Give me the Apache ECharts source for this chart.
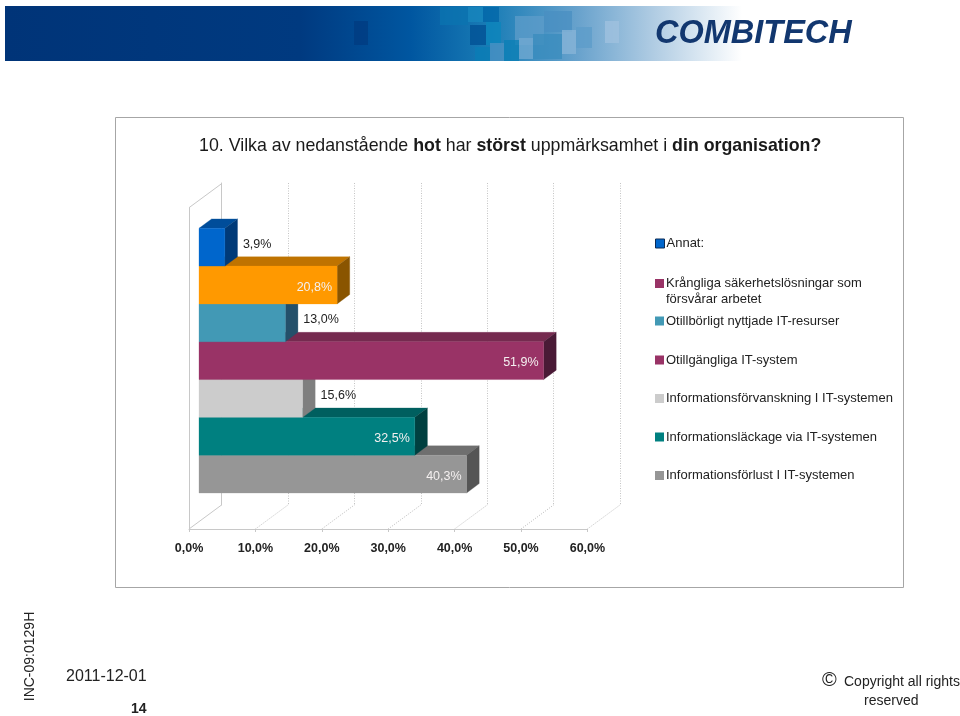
<!DOCTYPE html>
<html><head><meta charset="utf-8">
<style>html,body{margin:0;padding:0;background:#fff}#c{width:960px;height:716px}</style>
<script src="https://cdn.jsdelivr.net/npm/echarts@6/dist/echarts.min.js"></script>
</head><body><div id="c"></div>
<script>
// bottom-to-top, as in the chart
const categories = ['Informationsförlust I IT-systemen','Informationsläckage via IT-systemen','Informationsförvanskning I IT-systemen','Otillgängliga IT-system','Otillbörligt nyttjade IT-resurser','Krångliga säkerhetslösningar som','Annat:'];
const values = [40.3,32.5,15.6,51.9,13.0,20.8,3.9];
const xTicks = [0,10,20,30,40,50,60];
const frontColors = ['#969696','#008080','#cccccc','#993366','#4299b5','#ff9900','#0066cc'];
const topColors = ['#6f6f6f','#005f5f','#989898','#752a4f','#2f7188','#bf7300','#004d9a'];
const sideColors = ['#555555','#004040','#7f7f7f','#4a1a36','#24506a','#8a5500','#003a78'];
const legendColors = ['#969696','#008080','#cccccc','#993366','#4299b5','#993366','#0066cc'];
const legendTops = [474.5,436,397.5,359,320,282,242.5];

const FONT = '"Liberation Sans", Arial, sans-serif';
const depthBar = [12.6,-9.4], depthFloor = [32.8,-24.2];
const X0 = 199, PX = 398.4;

const fmt = v => v.toFixed(1).replace('.',',') + '%';
const barSeries = categories.map((name,i)=>({
  type:'custom', name, xAxisIndex:0, yAxisIndex:0, z:10+i,
  coordinateSystem:'cartesian2d',
  encode:{x:0,y:1},
  data:[[values[i], name]],
  renderItem(params, api){
    const v = api.value(0);
    const s = api.coord([0,name]), e = api.coord([v,name]);
    const h = api.size([0,1])[1];
    const t = s[1]-h/2, b = s[1]+h/2, l = s[0], r = e[0];
    const [dx,dy] = depthBar;
    const poly = (points,fill)=>({type:'polygon',shape:{points},style:{fill,stroke:fill,lineWidth:0.3}});
    const inside = v >= 20;
    return {type:'group',children:[
      poly([[l,t],[l+dx,t+dy],[r+dx,t+dy],[r,t]],topColors[i]),
      poly([[r,t],[r+dx,t+dy],[r+dx,b+dy],[r,b]],sideColors[i]),
      poly([[l,t],[r,t],[r,b],[l,b]],frontColors[i]),
      {type:'text',z2:5,style:{
        text:fmt(v),
        x: inside ? r-5 : r+18,
        y: s[1] + (inside ? 2.2 : -2.8),
        align: inside ? 'right' : 'left', verticalAlign:'middle',
        font:'12.5px '+FONT, fill: inside ? '#f4f0f0' : '#222'}}
    ]};
  }
}));

const wallSeries = {
  type:'custom', name:'floor', xAxisIndex:2, yAxisIndex:2, z:1, silent:true,
  coordinateSystem:'cartesian2d', encode:{x:0,y:1},
  data:xTicks.map(v=>[v,0]).concat([[0,1]]),
  renderItem(params, api){
    const p = api.coord([api.value(0),api.value(1)]);
    const solid = api.value(0)===0;
    return {type:'line',shape:{x1:p[0],y1:p[1],x2:p[0]+depthFloor[0],y2:p[1]+depthFloor[1]},
      style:{stroke:solid?'#c8c8c8':'#bbbbbb',lineWidth:1,lineDash:solid?null:[1,1.5]}};
  }
};

const legends = categories.map((name,i)=>{
  const wrapped = i===5;
  return {
    left:655, top:legendTops[i]-(wrapped?22.5:7), orient:'vertical', padding:0,
    itemWidth:9, itemHeight:9, itemGap:0, icon:'rect', selectedMode:false,
    data:[{name, itemStyle:{color:legendColors[i], borderColor:i===6?'#0a2a55':legendColors[i], borderWidth:i===6?1:0}}],
    formatter: n => wrapped ? '\n'+n+'\nförsvårar arbetet' : n,
    textStyle:{fontFamily:FONT,fontSize:13,color:'#222',padding:[0,0,0,-3],lineHeight:16}
  };
});

const mosaic = [[354,21,14,24,'#003b80'],[440,7,28,18,'#0b74b0'],[468,7,15,15,'#1787bd'],[483,7,16,15,'#0066a8'],[470,25,16,20,'#004f93'],[486,22,15,23,'#0b86bc'],[515,16,29,29,'#5d9cc9'],[544,11,28,21,'#4a8fc2'],[533,34,29,25,'#3a8cbd'],[504,40,15,21,'#0a7fb6'],[490,43,14,18,'#4d93c4'],[475,47,15,14,'#0a7eb5'],[519,38,14,21,'#73a9d2'],[576,27,16,21,'#5c9cc9'],[562,30,14,24,'#8ab5d8'],[605,21,14,22,'#a0c2df']];

const chart = echarts.init(document.getElementById('c'),null,{renderer:'canvas',width:960,height:716});
chart.setOption({
  animation:false, backgroundColor:'#fff',
  title:{
    left:199, top:137, padding:0, text:
      '{r|10. Vilka av nedanstående }{b|hot}{r| har }{b|störst}{r| uppmärksamhet i }{b|din organisation?}',
    textStyle:{fontWeight:'normal',rich:{
      r:{fontFamily:FONT,fontSize:17.8,fontWeight:'normal',color:'#1a1a1a'},
      b:{fontFamily:FONT,fontSize:17.8,fontWeight:'bold',color:'#1a1a1a'}}}
  },
  legend:legends,
  grid:[
    {left:X0,top:228.3,width:PX,height:264.7},
    {left:X0+22.6,top:183,width:PX,height:322},
    {left:189,top:207.7,width:PX,height:321.3}
  ],
  xAxis:[
    {gridIndex:0,type:'value',min:0,max:60,interval:10,show:false},
    {gridIndex:1,type:'value',min:0,max:60,interval:10,axisLine:{show:false},axisTick:{show:false},axisLabel:{show:false},
      splitLine:{show:true,lineStyle:{color:'#c4c4c4',type:[1,1.5]}}},
    {gridIndex:2,type:'value',min:0,max:60,interval:10,
      axisLine:{show:true,lineStyle:{color:'#c8c8c8'}},
      axisTick:{show:true,length:3,lineStyle:{color:'#c8c8c8'}},
      axisLabel:{margin:13,fontFamily:FONT,fontSize:12.5,fontWeight:'bold',color:'#222',formatter:v=>fmt(v),
        customValues:xTicks},
      splitLine:{show:false}}
  ],
  yAxis:[
    {gridIndex:0,type:'category',data:categories,show:false},
    {gridIndex:1,type:'value',min:0,max:1,axisLine:{show:true,lineStyle:{color:'#c8c8c8'}},axisTick:{show:false},axisLabel:{show:false},splitLine:{show:false}},
    {gridIndex:2,type:'value',min:0,max:1,axisLine:{show:true,lineStyle:{color:'#c8c8c8'}},axisTick:{show:false},axisLabel:{show:false},splitLine:{show:false}}
  ],
  series:[wallSeries].concat(barSeries),
  graphic:[
    {type:'rect',silent:true,z:-5,shape:{x:115.5,y:117.5,width:788,height:470},style:{fill:'none',stroke:'#a6a6a6',lineWidth:1}},
    {type:'rect',silent:true,z:-6,shape:{x:5,y:6,width:737,height:55},style:{fill:new echarts.graphic.LinearGradient(0,0,1,0,[
      {offset:0,color:'#003478'},{offset:.4,color:'#003a80'},{offset:.55,color:'#0056a0'},{offset:.66,color:'#1a7db6'},{offset:.78,color:'#6aa3cd'},{offset:.88,color:'#b0cce3'},{offset:1,color:'#ffffff'}])}},
    ...mosaic.map(m=>({type:'rect',silent:true,z:-5,shape:{x:m[0],y:m[1],width:m[2],height:m[3]},style:{fill:m[4],opacity:.75}})),
    {type:'text',silent:true,z:2,style:{text:'COMBITECH',x:655,y:34,verticalAlign:'middle',font:'italic bold 32.5px "Liberation Sans", sans-serif',fill:'#12376f'}},
    {type:'text',silent:true,rotation:Math.PI/2,x:30,y:656.5,style:{text:'INC-09:0129H',align:'center',verticalAlign:'middle',font:'14px '+FONT,fill:'#222'}},
    {type:'text',silent:true,style:{text:'2011-12-01',x:66,y:677,verticalAlign:'middle',font:'16px '+FONT,fill:'#222'}},
    {type:'text',silent:true,style:{text:'14',x:131,y:709,verticalAlign:'middle',font:'bold 14px '+FONT,fill:'#222'}},
    {type:'text',silent:true,style:{text:'©',x:822,y:680,verticalAlign:'middle',font:'20px '+FONT,fill:'#222'}},
    {type:'text',silent:true,style:{text:'Copyright all rights',x:844,y:682,verticalAlign:'middle',font:'14px '+FONT,fill:'#222'}},
    {type:'text',silent:true,style:{text:'reserved',x:864,y:701,verticalAlign:'middle',font:'14px '+FONT,fill:'#222'}}
  ]
});
</script></body></html>
